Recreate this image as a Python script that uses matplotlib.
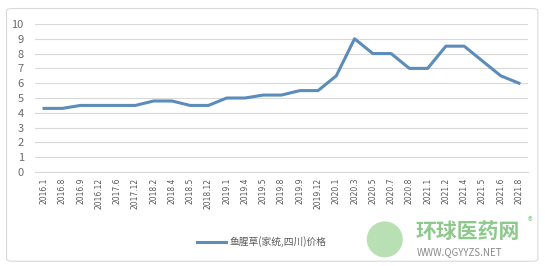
import matplotlib.pyplot as plt
from matplotlib.patches import FancyBboxPatch, Ellipse

plt.rcParams['font.family'] = ['Noto Sans CJK SC', 'DejaVu Sans']

months = ['2016.1', '2016.8', '2016.9', '2016.12', '2017.6', '2017.12', '2018.2',
          '2018.4', '2018.5', '2018.12', '2019.1', '2019.4', '2019.5', '2019.8',
          '2019.9', '2019.12', '2020.1', '2020.3', '2020.5', '2020.7', '2020.8',
          '2021.1', '2021.2', '2021.4', '2021.5', '2021.6', '2021.8']
price = [4.3, 4.3, 4.5, 4.5, 4.5, 4.5, 4.8, 4.8, 4.5, 4.5, 5.0, 5.0, 5.2, 5.2,
         5.5, 5.5, 6.5, 9.0, 8.0, 8.0, 7.0, 7.0, 8.5, 8.5, 7.5, 6.5, 6.0]
series_name = '鱼腥草(家统,四川)价格'
yticks = list(range(0, 11))

fig = plt.figure(figsize=(5.45, 2.66), dpi=100)
fig.patches.append(FancyBboxPatch((0.012, 0.018), 0.975, 0.95,
                                  boxstyle='round,pad=0,rounding_size=0.01',
                                  transform=fig.transFigure, fc='none',
                                  ec='#d9d9d9', lw=0.8, zorder=-1))

ax = fig.add_axes([0.064, 0.353, 0.905, 0.557])
x = range(len(months))
ax.plot(x, price, color='#5b8cba', lw=2.2, solid_joinstyle='round', label=series_name)
ax.set_xlim(-0.5, len(months) - 0.5)
ax.set_ylim(0, 10)
ax.set_yticks(yticks)
ax.set_xticks(list(x))
ax.set_xticklabels(months, rotation=90, fontsize=5.5, color='#595959',
                   family=['DejaVu Sans'])
ax.tick_params(axis='y', labelsize=8, labelcolor='#6b6b6b', length=0, pad=8)
ax.tick_params(axis='x', length=0, pad=4)
ax.grid(axis='y', color='#d9d9d9', lw=0.8)
ax.set_axisbelow(True)
for s in ax.spines.values():
    s.set_visible(False)
ax.spines['bottom'].set_visible(True)
ax.spines['bottom'].set_color('#d9d9d9')

ax.legend(loc='center', bbox_to_anchor=(0.46, -0.47), frameon=False,
          fontsize=7, handlelength=3.0, handletextpad=0.3, labelcolor='#595959')

# watermark
fig.patches.append(Ellipse((0.706, 0.1), 36 / 545, 36 / 266, transform=fig.transFigure,
                           fc='#a8d8a2', ec='none', alpha=0.8))
fig.text(0.762, 0.128, '环球医药网', fontsize=15, color='#8cc98a', va='center',
         fontweight='bold')
fig.text(0.764, 0.035, 'WWW.QGYYZS.NET', fontsize=7, color='#8a8a8a', va='bottom')
fig.text(0.968, 0.165, '®', fontsize=7, color='#8cc98a', va='center')

fig.savefig('out.png', dpi=100)
